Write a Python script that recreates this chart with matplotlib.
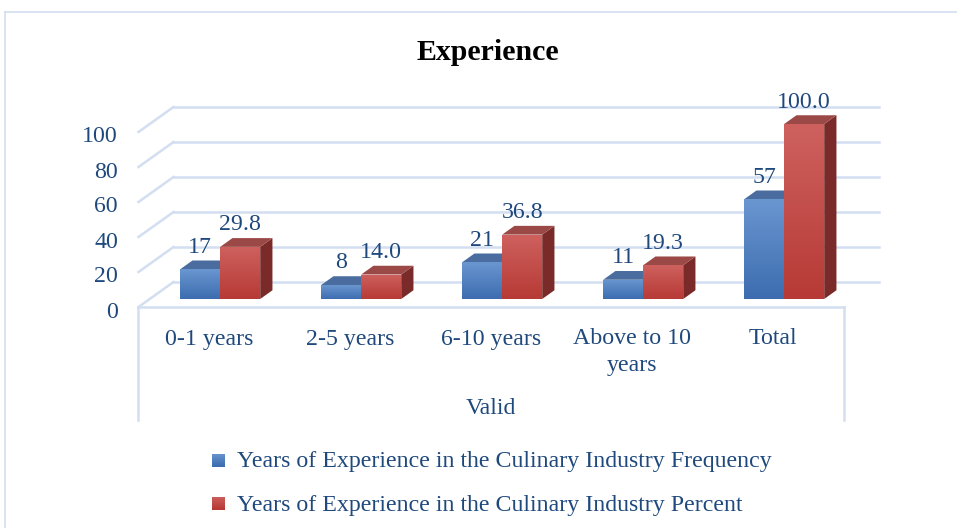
import numpy as np
import matplotlib
matplotlib.use("Agg")
import matplotlib.pyplot as plt
from matplotlib.patches import Polygon, Rectangle
from matplotlib.lines import Line2D

# ---------------- data ----------------
categories = ["0-1 years", "2-5 years", "6-10 years", "Above to 10\nyears", "Total"]
frequency = [17, 8, 21, 11, 57]
percent = [29.8, 14.0, 36.8, 19.3, 100.0]
freq_labels = ["17", "8", "21", "11", "57"]
pct_labels = ["29.8", "14.0", "36.8", "19.3", "100.0"]
yticks = [0, 20, 40, 60, 80, 100]
series_names = ["Years of Experience in the Culinary Industry Frequency",
                "Years of Experience in the Culinary Industry Percent"]
group_label = "Valid"
title = "Experience"

# ---------------- style ----------------
plt.rcParams['font.family'] = ['Liberation Serif', 'DejaVu Serif']
TXT = '#1F497D'
GRID = '#D3DEF1'
FS = 17.2

W_PX, H_PX = 957, 528
fig = plt.figure(figsize=(W_PX / 100, H_PX / 100), dpi=100)
ax = fig.add_axes([0, 0, 1, 1])
ax.axis('off')

# pixel scale mapping (category units / value units)
PXC = 141.0      # pixels per category
X0 = 209.0       # pixel of category 0 on front plane
PXV = 1.75       # pixels per value unit
Y0 = 307.0       # pixel row of value 0 on front plane
ax.set_xlim((0 - X0) / PXC, (W_PX - X0) / PXC)
ax.set_ylim((Y0 - H_PX) / PXV, Y0 / PXV)

DX = 35.0 / PXC   # depth offset (full depth) in category units
DY = 25.0 / PXV   # depth offset in value units


def P(x, v, d):
    return (x + d * DX, v + d * DY)


def vpx(px):
    """convert a pixel length into value units"""
    return px / PXV


def xp(px):
    return (px - X0) / PXC


def yp(py):
    return (Y0 - py) / PXV


n = len(categories)
xmin, xmax = -0.5, n - 0.5

# outer frame
ax.add_line(Line2D([xp(5), xp(5)], [yp(12), yp(H_PX)], color='#D6E0F0', lw=1.3))
ax.add_line(Line2D([xp(5), xp(W_PX)], [yp(12), yp(12)], color='#D6E0F0', lw=1.3))

# back wall gridlines and side wall diagonals
for t in yticks:
    a = P(xmin, t, 1); b = P(xmax, t, 1); c = P(xmin, t, 0)
    ax.add_line(Line2D([a[0], b[0]], [a[1], b[1]], color=GRID, lw=1.8))
    ax.add_line(Line2D([c[0], a[0]], [c[1], a[1]], color=GRID, lw=1.8))
    ax.text(xp(118), t - vpx(5), str(t), ha='right', va='center',
            fontsize=FS, color=TXT)

# floor front edge + category box
f0 = P(xmin, 0, 0); f1 = P(xmax, 0, 0)
ax.add_line(Line2D([f0[0], f1[0]], [f0[1], f1[1]], color=GRID, lw=1.8))
ybox = -vpx(113)
ax.add_line(Line2D([f0[0], f0[0]], [f0[1], ybox], color=GRID, lw=1.8))
ax.add_line(Line2D([f1[0], f1[0]], [f1[1], ybox], color=GRID, lw=1.8))

# bars
BW = 40.0 / PXC
D0, D1 = 0.32, 0.67
styles = [
    dict(top='#4A6C9E', side='#2F5180', g0='#6A96D0', g1='#3D6DB0'),
    dict(top='#9B4946', side='#7A2A28', g0='#CE615E', g1='#B73A36'),
]


def gradient_fill(patch, bbox, g0, g1, z):
    c0 = np.array(matplotlib.colors.to_rgb(g0))
    c1 = np.array(matplotlib.colors.to_rgb(g1))
    tt = np.linspace(0, 1, 64)[:, None]
    grad = (c0[None, :] * (1 - tt) + c1[None, :] * tt)[:, None, :]
    im = ax.imshow(grad, extent=bbox, aspect='auto', origin='upper',
                   zorder=z, interpolation='bilinear')
    im.set_clip_path(patch)


def draw_bar(x0, v, st, z):
    x1 = x0 + BW
    side = [P(x1, 0, D0), P(x1, 0, D1), P(x1, v, D1), P(x1, v, D0)]
    top = [P(x0, v, D0), P(x1, v, D0), P(x1, v, D1), P(x0, v, D1)]
    front = [P(x0, 0, D0), P(x1, 0, D0), P(x1, v, D0), P(x0, v, D0)]
    ax.add_patch(Polygon(side, closed=True, fc=st['side'], ec='none', zorder=z))
    ax.add_patch(Polygon(top, closed=True, fc=st['top'], ec='none', zorder=z))
    fp = Polygon(front, closed=True, fc=st['g1'], ec='none', zorder=z)
    ax.add_patch(fp)
    gradient_fill(fp, [front[0][0], front[1][0], front[0][1], front[2][1]],
                  st['g0'], st['g1'], z + 0.1)


for i in range(n):
    draw_bar(i - BW, frequency[i], styles[0], 3 + i)
    draw_bar(i, percent[i], styles[1], 3.5 + i)
    # value labels
    xb = P(i - BW / 2, frequency[i] + vpx(22), D0)
    ax.text(xb[0], xb[1], freq_labels[i], ha='center', va='center', fontsize=FS, color=TXT, zorder=20)
    xr = P(i + BW / 2, percent[i] + vpx(22), D0)
    ax.text(xr[0], xr[1], pct_labels[i], ha='center', va='center', fontsize=FS, color=TXT, zorder=20)
    # category labels (one text per line)
    for k, line in enumerate(categories[i].split('\n')):
        ax.text(i, yp(339 + 27 * k), line, ha='center', va='center', fontsize=FS, color=TXT)

ax.text((xmin + xmax) / 2, yp(409), group_label, ha='center', va='center', fontsize=FS, color=TXT)

# title
ax.text(xp(488), yp(53), title, ha='center', va='center', fontsize=21.5,
        fontweight='bold', color='black')

# legend
leg_y = [460, 503]
for k in range(2):
    yy = yp(leg_y[k])
    r = Rectangle((xp(212), yy - vpx(6.5)), 13 / PXC, vpx(13),
                  fc=styles[k]['g1'], ec='none')
    ax.add_patch(r)
    gradient_fill(r, [xp(212), xp(225), yy - vpx(6.5), yy + vpx(6.5)],
                  styles[k]['g0'], styles[k]['g1'], 2)
    ax.text(xp(237), yy - vpx(2), series_names[k], ha='left', va='center', fontsize=FS, color=TXT)

fig.savefig('out.png', dpi=100)
